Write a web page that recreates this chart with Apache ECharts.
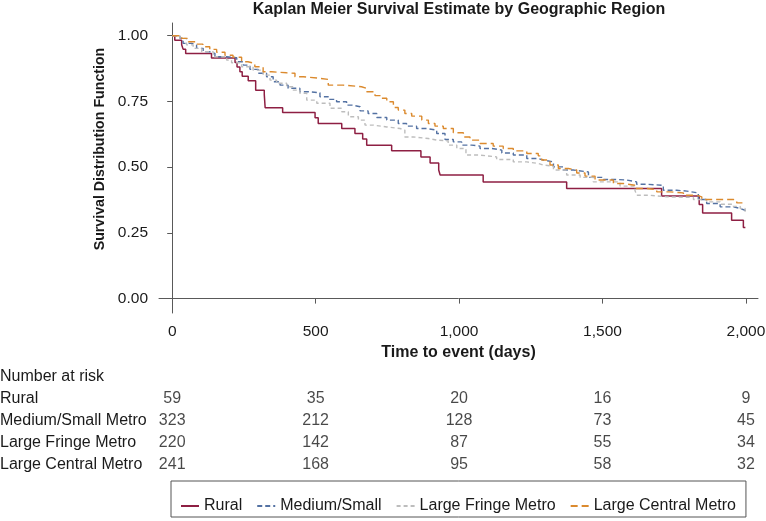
<!DOCTYPE html>
<html>
<head>
<meta charset="utf-8">
<script src="https://cdn.jsdelivr.net/npm/echarts@6/dist/echarts.min.js"></script>
<style>
html,body{margin:0;padding:0;background:#fff;}
#chart{width:766px;height:521px;}
</style>
</head>
<body>
<div id="chart"></div>
<script>
// ---- data ----
const seriesNames = ['Rural', 'Medium/Small', 'Large Fringe Metro', 'Large Central Metro'];
const riskRowLabels = ['Number at risk', 'Rural', 'Medium/Small Metro', 'Large Fringe Metro', 'Large Central Metro'];
const xTicks = [0, 500, 1000, 1500, 2000];
const yTicks = [0, 0.25, 0.5, 0.75, 1];

const ruralDays = [0, 9, 33, 38, 47, 137, 219, 226, 236, 244, 265, 291, 321, 324, 385, 498, 509, 591, 637, 664, 678, 765, 867, 899, 929, 934, 1084, 1375, 1706, 1837, 1849, 1950, 1991, 1998];
const ruralSurv = [1.0, 0.983, 0.966, 0.949, 0.932, 0.915, 0.898, 0.881, 0.863, 0.846, 0.829, 0.793, 0.776, 0.726, 0.708, 0.688, 0.666, 0.647, 0.628, 0.607, 0.583, 0.562, 0.539, 0.516, 0.489, 0.470, 0.444, 0.419, 0.390, 0.358, 0.326, 0.298, 0.270, 0.270];

const mediumDays = [0, 27, 38, 68, 85, 108, 131, 149, 190, 225, 248, 271, 300, 329, 352, 376, 404, 445, 474, 515, 544, 573, 608, 626, 655, 683, 713, 748, 788, 817, 852, 887, 922, 951, 980, 1009, 1044, 1073, 1114, 1149, 1189, 1236, 1276, 1294, 1329, 1363, 1398, 1451, 1503, 1550, 1584, 1619, 1654, 1712, 1759, 1794, 1834, 1863, 1910, 1956, 1980, 1997];
const mediumSurv = [1.0, 0.990, 0.971, 0.965, 0.952, 0.939, 0.933, 0.920, 0.916, 0.901, 0.888, 0.872, 0.857, 0.844, 0.825, 0.812, 0.800, 0.787, 0.783, 0.768, 0.758, 0.749, 0.736, 0.730, 0.714, 0.704, 0.689, 0.679, 0.666, 0.656, 0.647, 0.641, 0.628, 0.605, 0.596, 0.584, 0.580, 0.571, 0.565, 0.554, 0.546, 0.533, 0.527, 0.520, 0.501, 0.489, 0.482, 0.461, 0.453, 0.451, 0.444, 0.435, 0.431, 0.412, 0.409, 0.402, 0.377, 0.362, 0.349, 0.343, 0.336, 0.330];

const fringeDays = [0, 27, 50, 73, 103, 143, 190, 207, 242, 282, 317, 341, 364, 399, 422, 445, 469, 504, 550, 591, 614, 649, 672, 701, 748, 794, 811, 840, 893, 922, 962, 992, 1024, 1073, 1131, 1189, 1236, 1276, 1294, 1329, 1375, 1422, 1468, 1561, 1613, 1619, 1666, 1724, 1817, 1863, 1910, 1956, 1980, 1997];
const fringeSurv = [1.0, 0.990, 0.965, 0.952, 0.939, 0.920, 0.907, 0.897, 0.882, 0.869, 0.850, 0.831, 0.819, 0.806, 0.793, 0.781, 0.755, 0.743, 0.724, 0.711, 0.692, 0.679, 0.660, 0.653, 0.647, 0.641, 0.615, 0.609, 0.603, 0.600, 0.584, 0.571, 0.546, 0.539, 0.529, 0.520, 0.514, 0.508, 0.504, 0.489, 0.470, 0.461, 0.444, 0.428, 0.412, 0.393, 0.387, 0.385, 0.377, 0.368, 0.359, 0.351, 0.343, 0.330];

const centralDays = [0, 33, 56, 85, 107, 131, 155, 184, 212, 242, 264, 288, 317, 347, 399, 428, 457, 515, 544, 596, 643, 660, 678, 707, 730, 748, 771, 788, 811, 835, 870, 893, 916, 945, 980, 1015, 1038, 1073, 1119, 1154, 1189, 1236, 1276, 1288, 1317, 1346, 1381, 1410, 1439, 1474, 1538, 1573, 1613, 1654, 1689, 1735, 1782, 1829, 1846, 1956, 1968, 1997];
const centralSurv = [1.0, 0.990, 0.977, 0.968, 0.958, 0.948, 0.937, 0.926, 0.918, 0.901, 0.895, 0.882, 0.863, 0.859, 0.857, 0.844, 0.838, 0.834, 0.812, 0.808, 0.806, 0.800, 0.787, 0.772, 0.762, 0.749, 0.727, 0.717, 0.704, 0.694, 0.679, 0.666, 0.656, 0.647, 0.631, 0.615, 0.603, 0.590, 0.580, 0.571, 0.562, 0.552, 0.543, 0.527, 0.508, 0.495, 0.489, 0.478, 0.466, 0.451, 0.438, 0.431, 0.419, 0.415, 0.406, 0.402, 0.393, 0.387, 0.377, 0.374, 0.364, 0.362];

const riskRural = [59, 35, 20, 16, 9];
const riskMedium = [323, 212, 128, 73, 45];
const riskFringe = [220, 142, 87, 55, 34];
const riskCentral = [241, 168, 95, 58, 32];

// ---- build ----
const FONT = '"Liberation Sans", Arial, Helvetica, sans-serif';
const TXT = '#1a1a1a';
const AX = '#595959';
const FS = 16;
const zip = (a, b) => a.map((v, i) => [v, b[i]]);
const curves = [
  {name: seriesNames[0], days: ruralDays, surv: ruralSurv, color: '#8E1F43', type: 'solid', width: 1.5},
  {name: seriesNames[1], days: mediumDays, surv: mediumSurv, color: '#5472A3', type: [5, 3], width: 1.4},
  {name: seriesNames[2], days: fringeDays, surv: fringeSurv, color: '#BDBDBD', type: [4, 3], width: 1.4},
  {name: seriesNames[3], days: centralDays, surv: centralSurv, color: '#DB8A2E', type: [7, 4], width: 1.4}
];
const riskRows = [riskRural, riskMedium, riskFringe, riskCentral];
const riskData = [];
riskRows.forEach((row, r) => {
  row.forEach((n, c) => riskData.push([xTicks[c], riskRowLabels[r + 1], n]));
});

const chart = echarts.init(document.getElementById('chart'), null, {renderer: 'canvas'});
const fmtX = v => v.toLocaleString('en-US');
chart.setOption({
  animation: false,
  backgroundColor: '#fff',
  textStyle: {fontFamily: FONT, color: TXT},
  title: {
    text: 'Kaplan Meier Survival Estimate by Geographic Region',
    left: 459, top: 2, padding: 0, textAlign: 'center',
    textStyle: {fontFamily: FONT, fontSize: FS, fontWeight: 'bold', color: TXT}
  },
  grid: [
    {left: 159, right: 8, top: 23, bottom: 208, outerBoundsMode: 'none', containLabel: false},
    {left: 159, right: 8, top: 366, height: 110, outerBoundsMode: 'none', containLabel: false}
  ],
  xAxis: [
    {
      type: 'value', gridIndex: 0, min: -46, max: 2042,
      name: 'Time to event (days)', nameLocation: 'middle', nameGap: 32,
      nameTextStyle: {fontFamily: FONT, fontSize: FS, fontWeight: 'bold', color: TXT},
      axisLine: {show: true, lineStyle: {color: AX, width: 1}},
      axisTick: {show: true, length: 5, customValues: xTicks, lineStyle: {color: AX}},
      axisLabel: {customValues: xTicks, margin: 11, fontSize: 15.5, fontFamily: FONT, color: TXT, formatter: fmtX},
      splitLine: {show: false}
    },
    {type: 'value', gridIndex: 1, min: -46, max: 2042, show: false}
  ],
  yAxis: [
    {
      type: 'value', gridIndex: 0, min: -0.0548, max: 1.0484,
      name: 'Survival Distribution Function', nameLocation: 'middle', nameGap: 45, nameRotate: 90,
      nameTextStyle: {fontFamily: FONT, fontSize: 14.2, fontWeight: 'bold', color: TXT, padding: [0, 0, 0, 38]},
      axisLine: {show: true, lineStyle: {color: AX, width: 1}},
      axisTick: {show: true, length: 5, customValues: yTicks, lineStyle: {color: AX}},
      axisLabel: {customValues: yTicks, margin: 11, fontSize: 15.5, fontFamily: FONT, color: TXT, formatter: v => v.toFixed(2)},
      splitLine: {show: false}
    },
    {
      type: 'category', gridIndex: 1, data: riskRowLabels, inverse: true,
      axisLine: {show: false}, axisTick: {show: false}, splitLine: {show: false},
      axisLabel: {align: 'left', margin: 159, fontSize: FS, fontFamily: FONT, color: TXT}
    }
  ],
  legend: {
    data: seriesNames,
    left: 171, top: 481,
    padding: [17, 10, 3, 9],
    itemGap: 14, itemWidth: 18, itemHeight: 14,
    itemStyle: {opacity: 0},
    borderColor: '#555', borderWidth: 1, borderRadius: 0,
    textStyle: {fontFamily: FONT, fontSize: FS, color: TXT}
  },
  series: curves.map(c => ({
    name: c.name, type: 'line', step: 'end', symbol: 'none',
    xAxisIndex: 0, yAxisIndex: 0,
    data: zip(c.days, c.surv),
    color: c.color,
    lineStyle: {color: c.color, width: c.width, type: c.type}
  })).concat([{
    name: 'risk', type: 'scatter', xAxisIndex: 1, yAxisIndex: 1,
    data: riskData, symbolSize: 1, itemStyle: {color: 'rgba(0,0,0,0)'},
    label: {show: true, position: 'inside', fontFamily: FONT, fontSize: FS, color: TXT, formatter: p => String(p.value[2])},
    silent: true
  }])
});
</script>
</body>
</html>
